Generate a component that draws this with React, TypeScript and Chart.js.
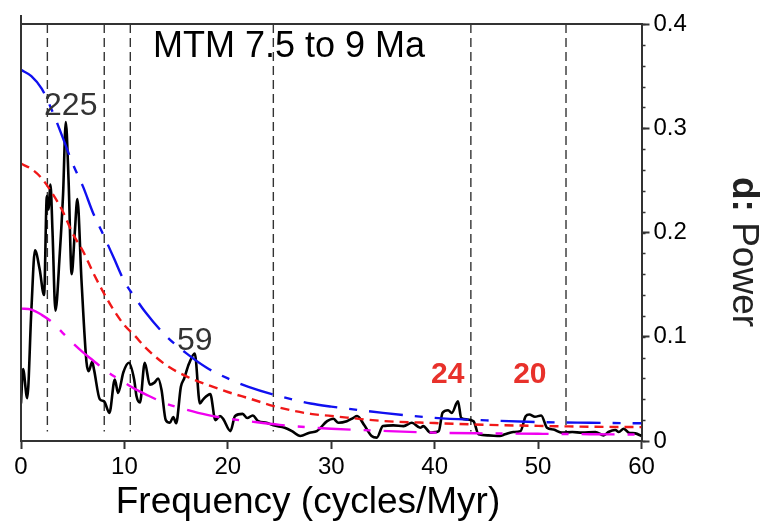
import { useEffect, useRef } from "react";
import { Chart, registerables } from "chart.js";

Chart.register(...registerables);

const FONT = "'Liberation Sans', Arial, sans-serif";

// MTM power spectrum, 7.5 to 9 Ma
const specFreq = [
  0.0, 0.2, 0.6, 1.0, 1.35, 1.8, 2.23, 2.5, 2.65, 2.85, 3.05, 3.33, 3.75, 4.07, 4.33,
  4.6, 4.9, 5.2, 5.45, 5.85, 6.33, 6.55, 6.88, 7.07, 7.62, 8.04, 8.55, 9.07, 9.39,
  9.9, 10.43, 10.94, 11.17, 11.5, 11.97, 12.46, 12.9, 13.26, 13.59, 14.0, 14.4, 14.72,
  15.0, 15.46, 15.78, 16.24, 16.8, 17.3, 17.62, 18.3, 18.8, 19.24, 19.56, 20.25, 20.7,
  21.43, 21.88, 22.4, 22.95, 23.75, 24.4, 25.5, 26.2, 27.0, 27.9, 28.6, 29.6, 30.2,
  30.7, 31.5, 32.1, 32.5, 33.2, 33.9, 34.4, 35.0, 36.0, 37.0, 37.8, 38.6, 38.9, 39.6,
  40.05, 40.4, 40.76, 41.3, 41.66, 42.25, 42.57, 43.1, 43.76, 44.24, 45.2, 46.3, 46.8,
  47.6, 48.3, 48.8, 49.15, 49.7, 50.3, 50.86, 51.5, 52.3, 53.3, 54.25, 55.54, 56.34,
  56.8, 57.47, 57.8, 58.28, 58.76, 59.4, 60.0,
];
const specPower = [
  0.036, 0.069, 0.041, 0.125, 0.183, 0.165, 0.14, 0.235, 0.222, 0.246, 0.2, 0.125, 0.18, 0.237, 0.306,
  0.25, 0.16, 0.2, 0.232, 0.154, 0.076, 0.067, 0.076, 0.068, 0.04, 0.038, 0.027, 0.059, 0.046,
  0.066, 0.075, 0.059, 0.043, 0.037, 0.075, 0.054, 0.056, 0.06, 0.049, 0.02, 0.0175, 0.023,
  0.017, 0.052, 0.06, 0.074, 0.084, 0.036, 0.04, 0.045, 0.02, 0.024, 0.021, 0.0095, 0.024,
  0.026, 0.022, 0.0245, 0.019, 0.0175, 0.015, 0.0127, 0.0095, 0.0048, 0.008, 0.0095, 0.019, 0.0213,
  0.0175, 0.019, 0.022, 0.024, 0.015, 0.0048, 0.0032, 0.0143, 0.015, 0.0143, 0.0175, 0.0127, 0.0143, 0.008,
  0.0085, 0.0095, 0.027, 0.0295, 0.027, 0.038, 0.022, 0.0207, 0.019, 0.0064, 0.0054, 0.0048, 0.0064,
  0.0086, 0.0095, 0.0238, 0.0254, 0.0232, 0.0245, 0.0127, 0.011, 0.008, 0.0086, 0.008, 0.0086, 0.0054,
  0.0086, 0.0105, 0.0086, 0.0118, 0.008, 0.0073, 0.0048,
];

// AR(1) red-noise reference levels
const noiseFreq = [0, 1, 2, 3, 4, 5, 6, 7, 8, 9, 10, 11, 12, 14, 16, 18, 20, 22, 25, 28, 30, 35, 40, 45, 50, 55, 60];
const noiseUpper = [
  0.356, 0.35, 0.338, 0.317, 0.292, 0.266, 0.244, 0.218, 0.197, 0.175, 0.153, 0.138, 0.124, 0.101, 0.084,
  0.07, 0.06, 0.052, 0.043, 0.036, 0.033, 0.027, 0.0222, 0.0198, 0.0182, 0.0175, 0.017,
];
const noiseMedian = [
  0.266, 0.261, 0.252, 0.238, 0.221, 0.199, 0.182, 0.161, 0.142, 0.125, 0.111, 0.101, 0.09, 0.073, 0.062,
  0.054, 0.047, 0.041, 0.032, 0.026, 0.024, 0.0192, 0.0172, 0.0155, 0.0145, 0.0137, 0.0133,
];
const noiseLower = [
  0.127, 0.126, 0.121, 0.114, 0.104, 0.094, 0.085, 0.077, 0.069, 0.062, 0.056, 0.05, 0.045, 0.036, 0.03,
  0.025, 0.0215, 0.019, 0.0155, 0.013, 0.0118, 0.0097, 0.008, 0.0073, 0.0069, 0.0065, 0.0062,
];

// Reference frequencies marked with vertical dashed lines
const markerFreqs = [2.55, 8.05, 10.57, 24.4, 43.5, 52.7];
const markerTop = 0.4;
const markerBottom = 0.009;

// Peak annotations (period in kyr)
const peakText = ["225", "59", "24", "20"];
const peakFreq = [4.81, 16.81, 41.26, 49.2];
const peakPower = [0.313, 0.0873, 0.0559, 0.0559];
const peakHighlight = [false, false, true, true];

const xMin = 0;
const xMax = 60;
const xStep = 10;
const yMin = 0;
const yMax = 0.4;
const yStep = 0.1;
const yMinorStep = 0.02;

const chartTitle = "MTM 7.5 to 9 Ma";
const xTitle = "Frequency (cycles/Myr)";
const yTitleBold = "d:";
const yTitleRest = " Power";

const pts = (xs: number[], ys: number[]) => xs.map((x, i) => ({ x, y: ys[i] }));

const decorPlugin = {
  id: "decor",
  afterDatasetsDraw(chart: any) {
    const { ctx, chartArea, scales } = chart;
    const xs = scales.x;
    const ys = scales.y;
    ctx.save();

    // frame: top and left edges
    ctx.strokeStyle = "#333";
    ctx.lineWidth = 2;
    ctx.beginPath();
    ctx.moveTo(chartArea.left, chartArea.top);
    ctx.lineTo(chartArea.right, chartArea.top);
    ctx.moveTo(chartArea.left, chartArea.top - 9);
    ctx.lineTo(chartArea.left, chartArea.bottom);
    ctx.stroke();

    // minor ticks on the power axis
    ctx.lineWidth = 1.5;
    ctx.beginPath();
    for (let v = yMin; v <= yMax + 1e-9; v += yMinorStep) {
      const y = Math.round(ys.getPixelForValue(v)) + 0.5;
      ctx.moveTo(chartArea.right, y);
      ctx.lineTo(chartArea.right + 4, y);
    }
    ctx.stroke();

    // plot title
    ctx.fillStyle = "#000";
    ctx.font = `36px ${FONT}`;
    ctx.textAlign = "center";
    ctx.textBaseline = "alphabetic";
    ctx.fillText(chartTitle, 289, 57);

    // frequency axis title
    ctx.font = `37px ${FONT}`;
    ctx.fillText(xTitle, 308, 513);

    // peak labels
    peakText.forEach((t, i) => {
      ctx.font = peakHighlight[i] ? `bold 30px ${FONT}` : `32px ${FONT}`;
      ctx.fillStyle = peakHighlight[i] ? "#e8312b" : "#333";
      ctx.fillText(t, xs.getPixelForValue(peakFreq[i]), ys.getPixelForValue(peakPower[i]));
    });

    // power axis title, reading top to bottom
    ctx.translate(733, 252);
    ctx.rotate(Math.PI / 2);
    ctx.fillStyle = "#222";
    ctx.textAlign = "left";
    ctx.textBaseline = "alphabetic";
    const boldFont = `bold 37px ${FONT}`;
    const normFont = `37px ${FONT}`;
    ctx.font = boldFont;
    const w1 = ctx.measureText(yTitleBold).width;
    ctx.font = normFont;
    const w2 = ctx.measureText(yTitleRest).width;
    const start = -(w1 + w2) / 2;
    ctx.font = boldFont;
    ctx.fillText(yTitleBold, start, 0);
    ctx.font = normFont;
    ctx.fillText(yTitleRest, start + w1, 0);

    ctx.restore();
  },
};

export default function App() {
  const canvasRef = useRef<HTMLCanvasElement | null>(null);

  useEffect(() => {
    const canvas = canvasRef.current;
    if (!canvas) return;

    const markerSets = markerFreqs.map((f) => ({
      data: [
        { x: f, y: markerTop },
        { x: f, y: markerBottom },
      ],
      borderColor: "#333",
      borderWidth: 1.4,
      borderDash: [9, 5],
      pointRadius: 0,
      order: 3,
    }));

    const chart = new Chart(canvas, {
      type: "line",
      data: {
        datasets: [
          ...markerSets,
          {
            data: pts(specFreq, specPower),
            borderColor: "#000",
            borderWidth: 2.6,
            pointRadius: 0,
            cubicInterpolationMode: "monotone",
            order: 2,
          },
          {
            data: pts(noiseFreq, noiseLower),
            borderColor: "#f000f0",
            borderWidth: 2.4,
            borderDash: [33, 13, 7, 13],
            pointRadius: 0,
            cubicInterpolationMode: "monotone",
            order: 1,
          },
          {
            data: pts(noiseFreq, noiseMedian),
            borderColor: "#f01818",
            borderWidth: 2.4,
            borderDash: [9, 6],
            pointRadius: 0,
            cubicInterpolationMode: "monotone",
            order: 1,
          },
          {
            data: pts(noiseFreq, noiseUpper),
            borderColor: "#1010f0",
            borderWidth: 2.4,
            borderDash: [34, 12, 8, 12],
            pointRadius: 0,
            cubicInterpolationMode: "monotone",
            order: 1,
          },
        ],
      } as any,
      options: {
        responsive: false,
        animation: false,
        devicePixelRatio: 1,
        layout: { padding: { left: 21, top: 24, right: 61.5, bottom: 0 } },
        plugins: {
          legend: { display: false },
          tooltip: { enabled: false },
        },
        scales: {
          x: {
            type: "linear",
            min: xMin,
            max: xMax,
            afterFit: (s: any) => {
              s.height = 85;
            },
            ticks: {
              stepSize: xStep,
              color: "#000",
              font: { family: FONT, size: 24 },
              padding: 4,
              maxRotation: 0,
            },
            grid: {
              drawOnChartArea: false,
              drawTicks: true,
              tickLength: 8,
              tickColor: "#333",
              tickWidth: 2,
            },
            border: { display: true, color: "#333", width: 2 },
            title: { display: false },
          },
          y: {
            type: "linear",
            position: "right",
            min: yMin,
            max: yMax,
            afterFit: (s: any) => {
              s.width = 60;
            },
            ticks: {
              stepSize: yStep,
              color: "#000",
              font: { family: FONT, size: 24 },
              padding: 4,
              callback: (v: any) => (Number(v) === 0 ? "0" : Number(v).toFixed(1)),
            },
            grid: {
              drawOnChartArea: false,
              drawTicks: true,
              tickLength: 8,
              tickColor: "#333",
              tickWidth: 2,
            },
            border: { display: true, color: "#333", width: 2 },
          },
        },
      } as any,
      plugins: [decorPlugin],
    });

    return () => chart.destroy();
  }, []);

  return (
    <div style={{ position: "absolute", left: 0, top: 0, width: 763, height: 526, background: "#fff" }}>
      <canvas ref={canvasRef} width={763} height={526} style={{ display: "block" }} />
    </div>
  );
}
